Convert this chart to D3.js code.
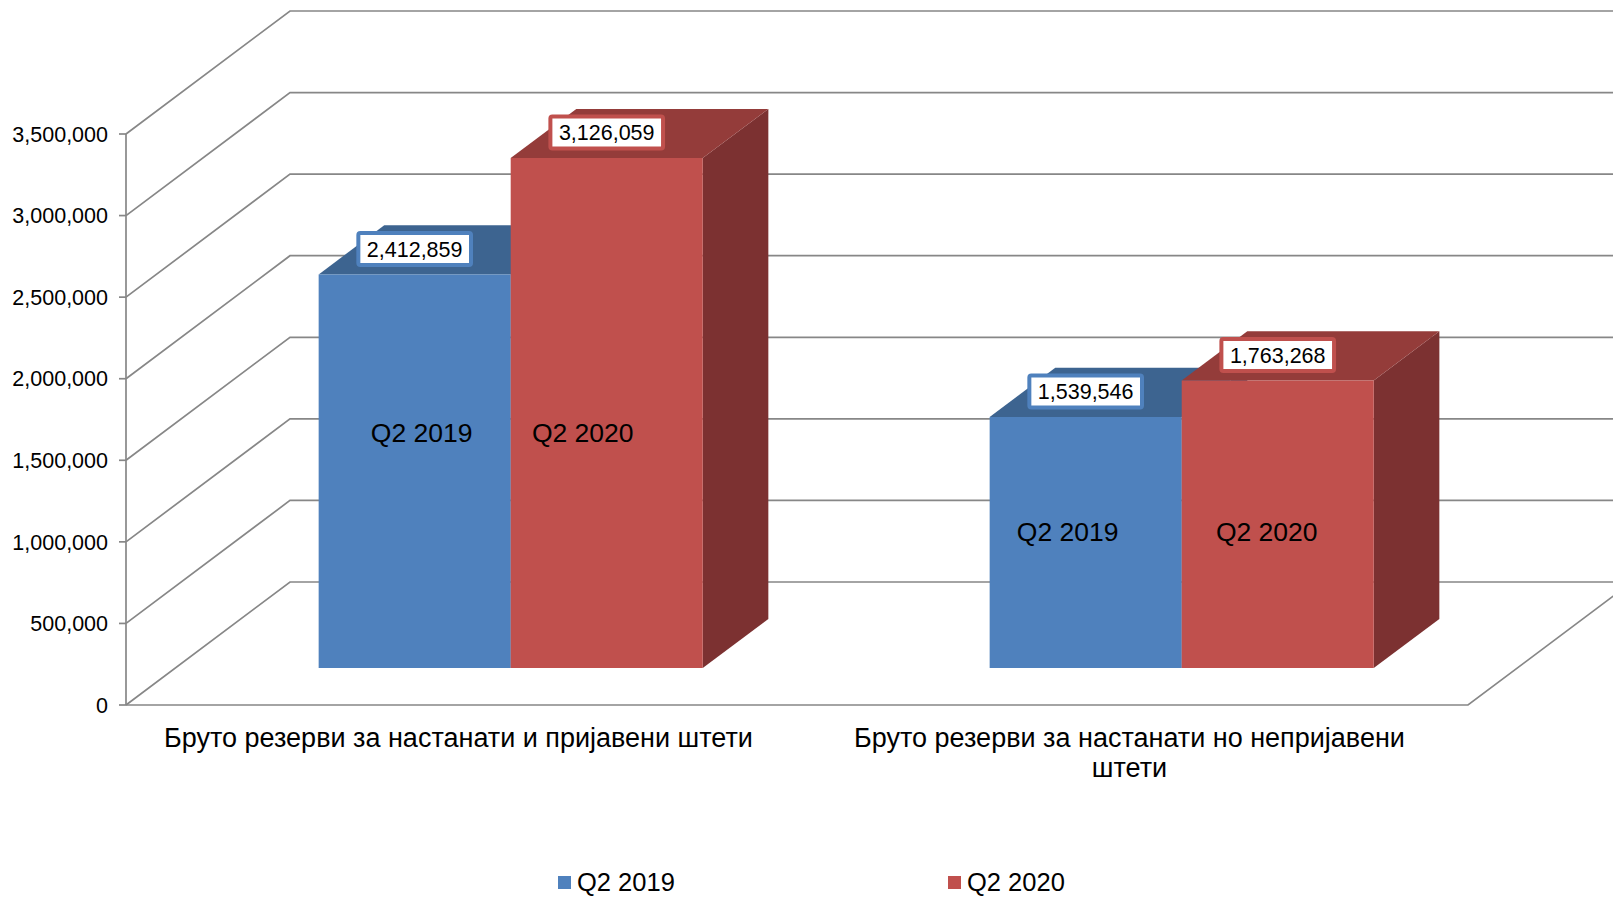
<!DOCTYPE html>
<html>
<head>
<meta charset="utf-8">
<script src="https://cdn.jsdelivr.net/npm/d3@7"></script>
<style>
html,body{margin:0;padding:0;background:#fff;}
svg{display:block;font-family:"Liberation Sans",Arial,sans-serif;}
</style>
</head>
<body>
<svg id="chart" width="1613" height="897"></svg>
<script>
// ---- data ----
const categories = ["Бруто резерви за настанати и пријавени штети", "Бруто резерви за настанати но непријавени штети"];
const series = ["Q2 2019", "Q2 2020"];
const valuesQ2_2019 = [2412859, 1539546];
const valuesQ2_2020 = [3126059, 1763268];
const yTicks = [0, 500000, 1000000, 1500000, 2000000, 2500000, 3000000, 3500000];

const seriesValues = [valuesQ2_2019, valuesQ2_2020];
const colors = {
  front: ["#4F81BD", "#C0504D"],
  top:   ["#3D6490", "#943C3A"],
  side:  ["#345580", "#7C3131"]
};
// layout nudges for the in-bar series labels (as placed by the original chart tool)
const nameNudgeX = [[7, -24], [-18, -11]];
const nameNudgeY = [-10, -2];

const svg = d3.select("#chart");
const W = 1613, H = 897;

// ---- scales (front plane) ----
const y = d3.scaleLinear().domain([0, 3500000]).range([705, 134]);
const x = d3.scaleBand().domain(categories).range([126, 1468]);
const xSub = d3.scaleBand().domain(series).range([0, x.bandwidth()]).paddingOuter(0.747).paddingInner(0);
const DX = 164, DY = 123;           // full depth offset
const z0 = 0.3, z1 = 0.7;           // bar depth span
const P = (px, py, z) => [px + z * DX, py - z * DY];

const gridColor = "#878787";
const grid = svg.append("g").attr("fill", "none").attr("stroke", gridColor).attr("stroke-width", 1.7);

// walls & gridlines
yTicks.forEach(t => {
  const yy = y(t);
  grid.append("path").attr("d", d3.line()([[126, yy], P(126, yy, 1), [W + 50, yy - DY]]));
  grid.append("line").attr("x1", 119).attr("x2", 126).attr("y1", yy).attr("y2", yy);
});
// value axis
grid.append("line").attr("x1", 126).attr("x2", 126).attr("y1", y(0)).attr("y2", y(3500000));
// floor front edge and right floor diagonal
grid.append("path").attr("d", d3.line()([[126, y(0)], [1468, y(0)], P(1468, y(0), 1)]));

// tick labels
svg.append("g").selectAll("text").data(yTicks).join("text")
  .attr("x", 108).attr("y", d => y(d)).attr("dy", "0.36em")
  .attr("text-anchor", "end").attr("font-size", 21.5).attr("fill", "#000")
  .text(d => d3.format(",")(d));

// ---- bars ----
const bars = svg.append("g");
categories.forEach((c, ci) => {
  series.forEach((s, si) => {
    const v = seriesValues[si][ci];
    const xl = x(c) + xSub(s), xr = xl + xSub.bandwidth();
    const yt = y(v), yb = y(0);
    const fTL = P(xl, yt, z0), fTR = P(xr, yt, z0), fBR = P(xr, yb, z0), fBL = P(xl, yb, z0);
    const bTL = P(xl, yt, z1), bTR = P(xr, yt, z1), bBR = P(xr, yb, z1);
    const g = bars.append("g");
    g.append("path").attr("d", d3.line()([fTR, bTR, bBR, fBR]) + "Z").attr("fill", colors.side[si]);
    g.append("path").attr("d", d3.line()([fTL, bTL, bTR, fTR]) + "Z").attr("fill", colors.top[si]);
    g.append("path").attr("d", d3.line()([fTL, fTR, fBR, fBL]) + "Z").attr("fill", colors.front[si]);
  });
});

// in-bar series name labels
categories.forEach((c, ci) => {
  const mids = series.map((s, si) => (y(seriesValues[si][ci]) + y(0)) / 2 - z0 * DY);
  const yc = d3.mean(mids) + nameNudgeY[ci];
  series.forEach((s, si) => {
    const xc = x(c) + xSub(s) + xSub.bandwidth() / 2 + z0 * DX + nameNudgeX[ci][si];
    svg.append("text").attr("x", xc).attr("y", yc).attr("dy", "0.36em")
      .attr("text-anchor", "middle").attr("font-size", 26.5).attr("fill", "#000").text(s);
  });
});

// value labels
const labels = svg.append("g");
categories.forEach((c, ci) => {
  series.forEach((s, si) => {
    const v = seriesValues[si][ci];
    const [xc, yt] = P(x(c) + xSub(s) + xSub.bandwidth() / 2, y(v), z0);
    const yc = yt - 25.5;
    const g = labels.append("g");
    const t = g.append("text").attr("x", xc).attr("y", yc).attr("dy", "0.36em")
      .attr("text-anchor", "middle").attr("font-size", 21.5).attr("fill", "#000")
      .text(d3.format(",")(v));
    const w = t.node().getComputedTextLength() + 21, h = 36;
    g.insert("rect", "text").attr("x", xc - w / 2 + 2).attr("y", yc - h / 2 + 2)
      .attr("width", w - 4).attr("height", h - 4).attr("rx", 2)
      .attr("fill", "#fff").attr("stroke", colors.front[si]).attr("stroke-width", 4);
  });
});

// category labels (wrapped)
const catG = svg.append("g");
categories.forEach(c => {
  const cx = x(c) + x.bandwidth() / 2 - 3;
  const t = catG.append("text").attr("x", cx).attr("y", 747)
    .attr("text-anchor", "middle").attr("font-size", 27).attr("fill", "#000");
  const words = c.split(" ");
  let line = [], lineNo = 0;
  let ts = t.append("tspan").attr("x", cx).attr("y", 747);
  words.forEach(wd => {
    line.push(wd);
    ts.text(line.join(" "));
    if (ts.node().getComputedTextLength() > 620 && line.length > 1) {
      line.pop();
      ts.text(line.join(" "));
      line = [wd];
      lineNo++;
      ts = t.append("tspan").attr("x", cx).attr("y", 747 + lineNo * 30).text(wd);
    }
  });
});

// legend
const legendX = [558, 948];
const leg = svg.append("g");
series.forEach((s, si) => {
  leg.append("rect").attr("x", legendX[si]).attr("y", 876).attr("width", 13).attr("height", 13)
    .attr("fill", colors.front[si]);
  leg.append("text").attr("x", legendX[si] + 19).attr("y", 891)
    .attr("font-size", 25.5).attr("fill", "#000").text(s);
});
</script>
</body>
</html>
